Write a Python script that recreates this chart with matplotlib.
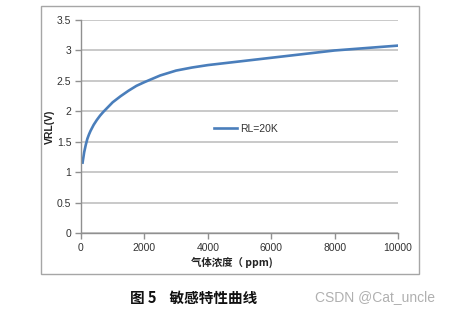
import matplotlib
matplotlib.use("Agg")
from matplotlib import pyplot as plt
from matplotlib.patches import Rectangle

plt.rcParams['font.family'] = ['Liberation Sans', 'Noto Sans CJK SC', 'DejaVu Sans']

ppm = [50, 100, 150, 200, 250, 300, 400, 500, 600, 700, 850, 1000, 1250, 1500, 1750,
       2000, 2500, 3000, 3500, 4000, 5000, 6000, 7000, 8000, 9000, 10000]
vrl = [1.16, 1.33, 1.45, 1.55, 1.62, 1.68, 1.78, 1.86, 1.93, 1.99, 2.07, 2.15, 2.25,
       2.34, 2.42, 2.48, 2.59, 2.67, 2.72, 2.76, 2.82, 2.88, 2.94, 3.00, 3.04, 3.08]
series_name = 'RL=20K'
xticks = [0, 2000, 4000, 6000, 8000, 10000]
yticks = [0, 0.5, 1, 1.5, 2, 2.5, 3, 3.5]

fig = plt.figure(figsize=(4.51, 3.13), dpi=100)
fig.patches.append(Rectangle((41 / 451, 1 - 274 / 313), 378 / 451, 268 / 313,
                             transform=fig.transFigure, fill=False,
                             edgecolor='#a6a6a6', linewidth=1.0))

ax = fig.add_axes([81 / 451, 1 - 233.3 / 313, 317 / 451, 213.3 / 313])
ax.plot(ppm, vrl, color='#4a7ebb', linewidth=1.9, label=series_name,
        solid_joinstyle='round')
ax.set_xlim(0, 10000)
ax.set_ylim(0, 3.5)
ax.set_xticks(xticks)
ax.set_yticks(yticks)
ax.set_yticklabels([f'{v:g}' for v in yticks])
ax.grid(axis='y', color='#c0c0c0', linewidth=1.2)
ax.set_axisbelow(True)
for s in ['top', 'right']:
    ax.spines[s].set_visible(False)
for s in ['left', 'bottom']:
    ax.spines[s].set_color('#909090')
    ax.spines[s].set_linewidth(1.0)
ax.tick_params(colors='#909090', labelcolor='#333333', labelsize=7.5, length=4, width=1.0)
ax.tick_params(axis='x', pad=3)
ax.tick_params(axis='y', pad=3)

ax.legend(loc='center left', bbox_to_anchor=(0.39, 0.49), frameon=False,
          fontsize=7.5, handlelength=2.2, handletextpad=0.3, labelcolor='#333333')

fig.text(50 / 451, 1 - 127 / 313, 'VRL(V)', rotation=90, ha='center', va='center',
         fontsize=7.5, fontweight='bold', color='#222222')
fig.text(232 / 451, 1 - 262 / 313, '气体浓度（ ppm)', ha='center', va='center',
         fontsize=7.5, fontweight='bold', color='#222222',
         family=['Noto Sans CJK SC', 'DejaVu Sans'])

fig.text(130 / 451, 1 - 297.5 / 313, '图 5    敏感特性曲线', ha='left', va='center',
         fontsize=10.5, fontweight='bold', color='#111111',
         family=['Noto Sans CJK SC', 'DejaVu Sans'])
fig.text(435 / 451, 1 - 297.5 / 313, 'CSDN @Cat_uncle', ha='right', va='center',
         fontsize=10, color='#b0b0b0', family=['Liberation Sans', 'DejaVu Sans'])

fig.savefig('out.png', dpi=100)
